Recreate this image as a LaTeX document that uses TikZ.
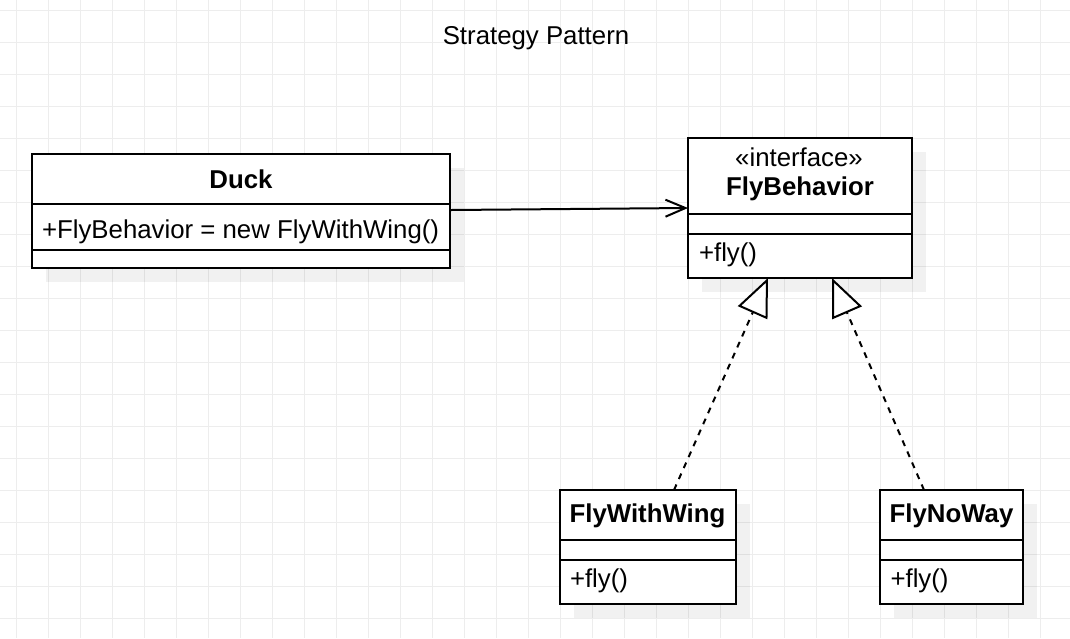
\documentclass[tikz,border=0pt]{standalone}
\usepackage{fontspec}
\setmainfont{Liberation Sans}
\usetikzlibrary{arrows.meta,calc,shadows}
\definecolor{gridc}{RGB}{237,237,237}
\begin{document}
\begin{tikzpicture}[x=1pt,y=-1pt,
  gridline/.style={draw=gridc,line width=1pt},
  classbox/.style={draw=black,fill=white,line width=2.2pt,inner sep=0pt,outer sep=0pt,
    drop shadow={shadow xshift=14pt,shadow yshift=-14pt,fill=black,opacity=0.055,draw=none}},
  divider/.style={draw=black,line width=2.2pt},
  txt/.style={inner sep=0pt,outer sep=0pt,font=\fontsize{25.8}{31}\selectfont},
  bold/.style={txt,font=\fontsize{25.8}{31}\selectfont\bfseries},
  assoc/.style={draw=black,line width=2pt,-{Straight Barb[length=20pt,width=17pt,line width=2pt]}},
  realize/.style={draw=black,line width=2pt,dash pattern=on 6pt off 6pt,
    -{Triangle[length=38pt,width=32pt,fill=white,line width=2pt]}}
]
\useasboundingbox (0,0) rectangle (1070,638);
\fill[white] (0,0) rectangle (1070,638);
% grid
\foreach \x in {16,48,...,1040} \draw[gridline] (\x,0) -- (\x,638);
\foreach \y in {10,42,...,618} \draw[gridline] (0,\y) -- (1070,\y);

% title
\node[txt,anchor=base] (title) at (536,44.3) {Strategy Pattern};

% Duck
\node[classbox,minimum width=418pt,minimum height=114pt] (duck) at (241,211) {};
\draw[divider] ($(duck.north west)+(0,50)$) -- ($(duck.north east)+(0,50)$);
\draw[divider] ($(duck.north west)+(0,96)$) -- ($(duck.north east)+(0,96)$);
\node[bold,anchor=base] (duckname) at (241,188.3) {Duck};
\node[txt,anchor=base west] (duckattr) at (42,238.3) {+FlyBehavior = new FlyWithWing()};

% FlyBehavior
\node[classbox,minimum width=224pt,minimum height=140pt] (fb) at (800,208) {};
\draw[divider] ($(fb.north west)+(0,76)$) -- ($(fb.north east)+(0,76)$);
\draw[divider] ($(fb.north west)+(0,96)$) -- ($(fb.north east)+(0,96)$);
\node[txt,anchor=base] (fbstereo) at (799,166.7) {«interface»};
\node[bold,anchor=base] (fbname) at (800,195) {FlyBehavior};
\node[txt,anchor=base west] (fbop) at (699,261.5) {+fly()};

% FlyWithWing
\node[classbox,minimum width=176pt,minimum height=114pt] (fw) at (648,547) {};
\draw[divider] ($(fw.north west)+(0,50)$) -- ($(fw.north east)+(0,50)$);
\draw[divider] ($(fw.north west)+(0,70)$) -- ($(fw.north east)+(0,70)$);
\node[bold,anchor=base] (fwname) at (647.5,522.7) {FlyWithWing};
\node[txt,anchor=base west] (fwop) at (570,587.7) {+fly()};

% FlyNoWay
\node[classbox,minimum width=143pt,minimum height=114pt] (fnw) at (951.5,547) {};
\draw[divider] ($(fnw.north west)+(0,50)$) -- ($(fnw.north east)+(0,50)$);
\draw[divider] ($(fnw.north west)+(0,70)$) -- ($(fnw.north east)+(0,70)$);
\node[bold,anchor=base] (fnwname) at (951.5,522.7) {FlyNoWay};
\node[txt,anchor=base west] (fnwop) at (890.5,587.7) {+fly()};

% connectors
\draw[assoc] ($(duck.east)+(1,-1)$) -- (fb.west);
\draw[realize] ($(fw.north)+(26,0)$) -- ($(fb.south)+(-32,0)$);
\draw[realize] ($(fnw.north)+(-27.5,0)$) -- ($(fb.south)+(32,0)$);
\end{tikzpicture}
\end{document}
